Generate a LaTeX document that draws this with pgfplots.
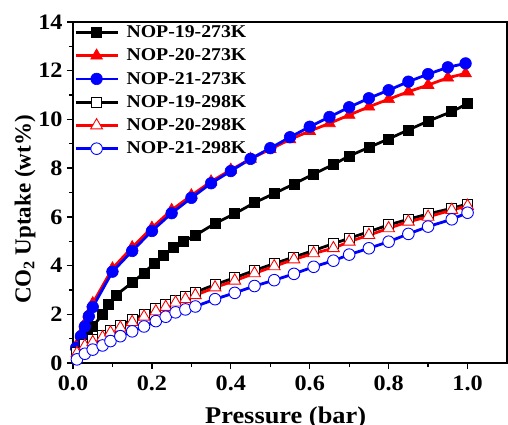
\documentclass[border=0pt]{standalone}
\usepackage{fontspec}
\setmainfont{Liberation Serif}[FakeStretch=1.1]
\newfontfamily\ylabfont{Liberation Serif}
\usepackage{pgfplots}
\usepackage{pgfplotstable}
\pgfplotsset{compat=1.18}

% CO2 uptake isotherms, pressure (bar) vs uptake (wt%)
\pgfplotstableread{
p u
0.010 0.55
0.020 0.82
0.035 1.12
0.050 1.50
0.075 2.00
0.090 2.42
0.110 2.80
0.150 3.30
0.180 3.70
0.205 4.08
0.230 4.42
0.255 4.74
0.280 4.99
0.310 5.24
0.360 5.73
0.410 6.13
0.460 6.58
0.510 6.96
0.560 7.35
0.610 7.76
0.660 8.15
0.700 8.50
0.750 8.85
0.800 9.20
0.850 9.57
0.900 9.93
0.960 10.32
1.000 10.65
}\nopA
\pgfplotstableread{
p u
0.008 0.70
0.020 1.20
0.030 1.62
0.040 2.02
0.050 2.45
0.100 3.88
0.150 4.75
0.200 5.55
0.250 6.28
0.300 6.88
0.350 7.45
0.400 7.93
0.450 8.38
0.500 8.78
0.550 9.18
0.600 9.52
0.650 9.84
0.700 10.18
0.750 10.52
0.800 10.83
0.850 11.14
0.900 11.41
0.950 11.71
0.995 11.89
}\nopB
\pgfplotstableread{
p u
0.008 0.62
0.020 1.10
0.030 1.50
0.040 1.92
0.050 2.30
0.100 3.75
0.150 4.60
0.200 5.42
0.250 6.15
0.300 6.78
0.350 7.38
0.400 7.88
0.450 8.38
0.500 8.82
0.550 9.27
0.600 9.70
0.650 10.10
0.700 10.50
0.750 10.87
0.800 11.20
0.850 11.55
0.900 11.86
0.950 12.14
0.995 12.30
}\nopC
\pgfplotstableread{
p u
0.010 0.45
0.030 0.75
0.050 0.95
0.075 1.15
0.095 1.35
0.120 1.55
0.150 1.78
0.180 2.00
0.210 2.22
0.235 2.40
0.260 2.58
0.285 2.73
0.310 2.90
0.360 3.22
0.410 3.50
0.460 3.80
0.510 4.08
0.560 4.35
0.610 4.62
0.660 4.90
0.700 5.12
0.750 5.39
0.800 5.67
0.850 5.90
0.900 6.12
0.960 6.35
1.000 6.53
}\nopD
\pgfplotstableread{
p u
0.010 0.40
0.030 0.70
0.050 0.85
0.075 1.05
0.095 1.25
0.120 1.45
0.150 1.68
0.180 1.90
0.210 2.12
0.235 2.30
0.260 2.48
0.285 2.62
0.310 2.78
0.360 3.10
0.410 3.38
0.460 3.68
0.510 3.97
0.560 4.25
0.610 4.50
0.660 4.71
0.700 4.98
0.750 5.25
0.800 5.53
0.850 5.80
0.900 6.00
0.960 6.28
1.000 6.45
}\nopE
\pgfplotstableread{
p u
0.010 0.15
0.030 0.38
0.050 0.55
0.075 0.72
0.095 0.90
0.120 1.10
0.150 1.30
0.180 1.50
0.210 1.72
0.235 1.90
0.260 2.08
0.285 2.20
0.310 2.32
0.360 2.62
0.410 2.88
0.460 3.16
0.510 3.40
0.560 3.66
0.610 3.95
0.660 4.20
0.700 4.45
0.750 4.71
0.800 4.98
0.850 5.30
0.900 5.60
0.960 5.90
1.000 6.17
}\nopF

\begin{document}
\begin{tikzpicture}
\begin{axis}[
  scale only axis,
  width=434pt, height=341pt,
  xmin=0, xmax=1.1, ymin=0, ymax=14,
  axis line style={line width=1.6pt},
  every tick/.style={black, line width=1.3pt},
  tick align=outside,
  xtick pos=bottom, ytick pos=left,
  major tick length=6pt, minor tick length=4pt,
  xtick={0,0.2,...,1.0}, minor xtick={0.1,0.3,...,0.9},
  ytick={0,2,...,14}, minor ytick={1,3,...,13},
  /pgf/number format/assume math mode=true,
  xticklabel style={/pgf/number format/fixed, /pgf/number format/fixed zerofill, /pgf/number format/precision=1, yshift=-3pt},
  ticklabel style={font=\fontsize{22}{26}\selectfont\bfseries},
  yticklabel style={xshift=-1pt},
  xlabel={Pressure (bar)},
  ylabel={\ylabfont CO\textsubscript{2} Uptake (wt\%)},
  xlabel style={font=\fontsize{24}{28}\selectfont\bfseries, at={(axis description cs:0.49,0)}, anchor=north, yshift=-44pt, inner sep=0pt},
  ylabel style={font=\fontsize{23}{26}\selectfont\bfseries, at={(axis description cs:0,0.45)}, anchor=center, yshift=48pt, inner sep=0pt},
  legend style={draw=none, fill=none, at={(axis description cs:0,1)}, anchor=north west,
    xshift=0pt, yshift=-1pt, font=\fontsize{18}{20}\selectfont\bfseries,
    row sep=6.8pt, inner sep=1pt, nodes={inner sep=1.5pt},
    /tikz/column 1/.style={column sep=6pt}},
  legend cell align=left,
  legend image code/.code={\draw[mark repeat=2,mark phase=2] plot coordinates {(0pt,0pt)(21pt,0pt)(42pt,0pt)};},
  every axis plot/.append style={line width=2.8pt},
]
\addplot[black, mark=square*, mark size=5pt, mark options={solid, line width=0.6pt}] table[x=p,y=u] {\nopA};
\addlegendentry{NOP-19-273K}
\addplot[red, mark=triangle*, mark size=6.8pt, mark options={solid, line width=0.6pt}] table[x=p,y=u] {\nopB};
\addlegendentry{NOP-20-273K}
\addplot[blue, mark=*, mark size=5.8pt, mark options={solid, line width=0.6pt}] table[x=p,y=u] {\nopC};
\addlegendentry{NOP-21-273K}
\addplot[black, mark=square*, mark size=5pt, mark options={solid, fill=white, line width=0.9pt}] table[x=p,y=u] {\nopD};
\addlegendentry{NOP-19-298K}
\addplot[red, mark=triangle*, mark size=6.8pt, mark options={solid, fill=white, line width=0.9pt}] table[x=p,y=u] {\nopE};
\addlegendentry{NOP-20-298K}
\addplot[blue, mark=*, mark size=5.8pt, mark options={solid, fill=white, line width=0.9pt}] table[x=p,y=u] {\nopF};
\addlegendentry{NOP-21-298K}
\end{axis}
\pgfresetboundingbox
\path[use as bounding box] (-73pt,-61pt) rectangle (435pt,363pt);
\end{tikzpicture}
\end{document}
